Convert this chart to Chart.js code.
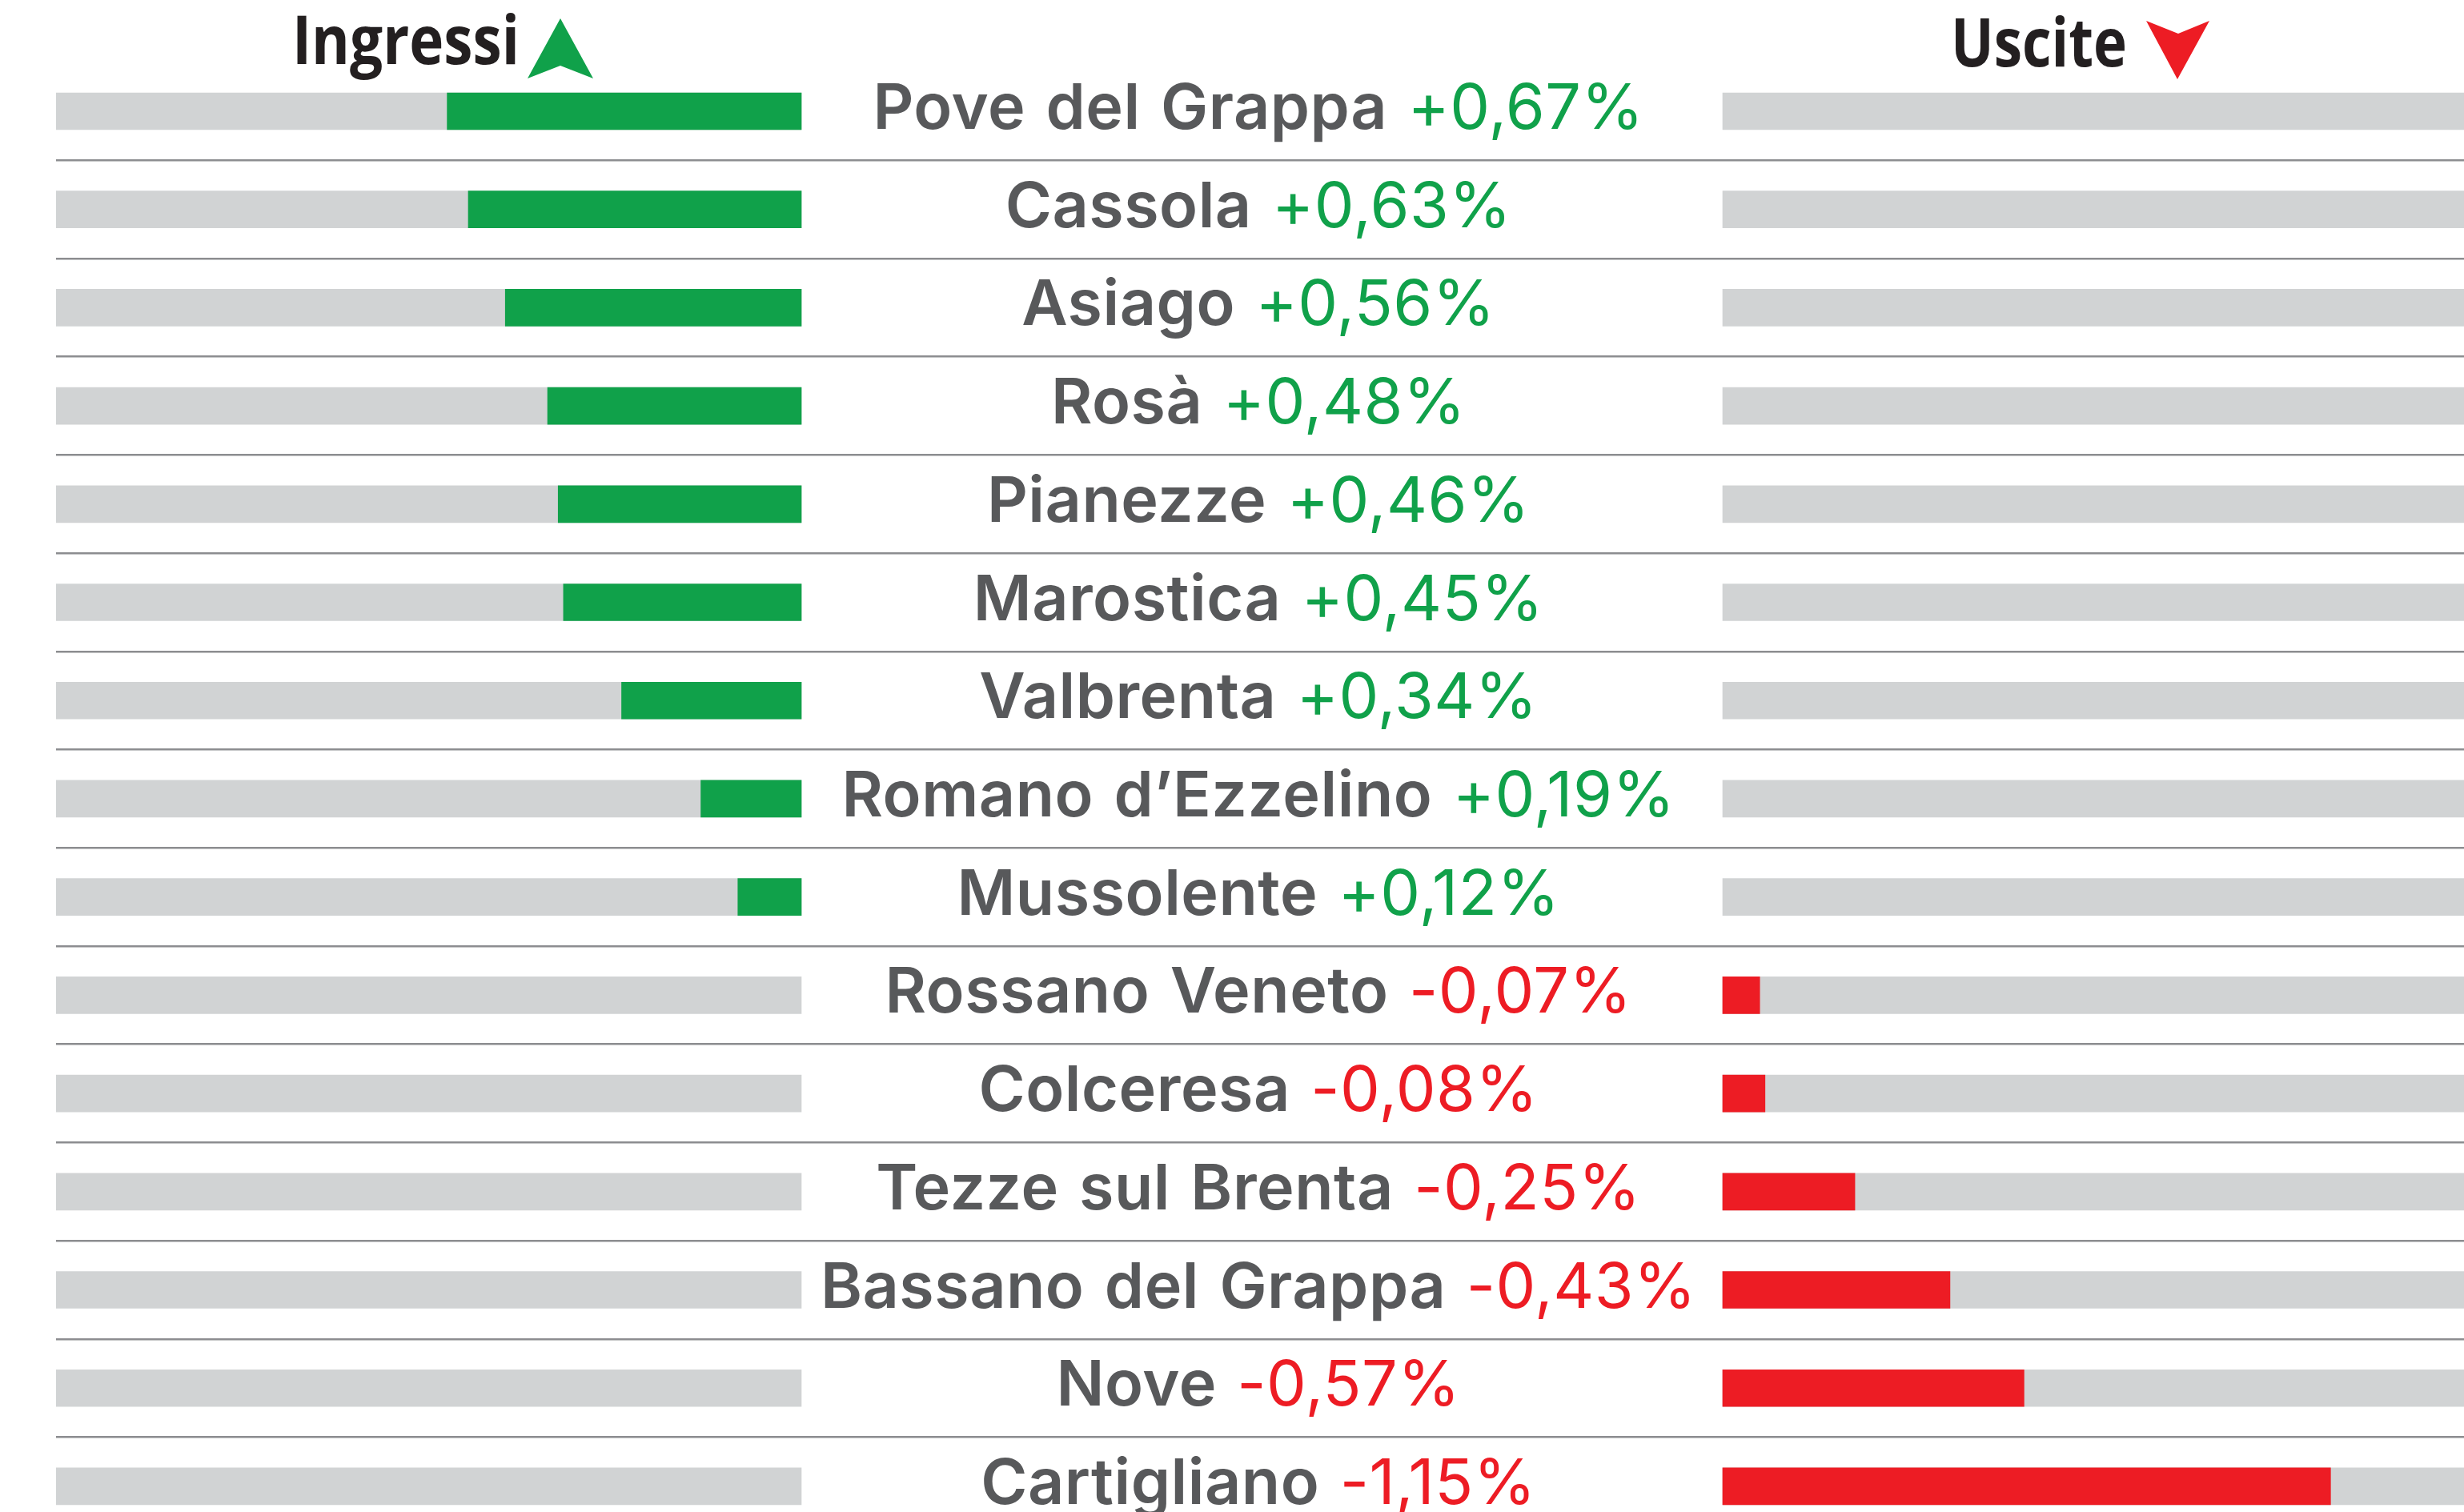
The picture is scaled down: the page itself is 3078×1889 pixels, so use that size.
<!DOCTYPE html>
<html lang="it">
<head>
<meta charset="utf-8">
<title>Ingressi e uscite</title>
<script src="https://cdn.jsdelivr.net/npm/chart.js@4.4.1/dist/chart.umd.min.js"></script>
<style>
  html, body { margin: 0; padding: 0; background: #fff; overflow: hidden; }
  #grafico { position: absolute; left: 0; top: 0; }
</style>
</head>
<body>
<canvas id="grafico" width="3100" height="1930"></canvas>
<script>
// Dati
const comuni = ['Pove del Grappa', 'Cassola', 'Asiago', 'Rosà', 'Pianezze', 'Marostica', 'Valbrenta',
    'Romano d\u2019Ezzelino', 'Mussolente', 'Rossano Veneto', 'Colceresa', 'Tezze sul Brenta',
    'Bassano del Grappa', 'Nove', 'Cartigliano'];
const variazioni = [0.67, 0.63, 0.56, 0.48, 0.46, 0.45, 0.34, 0.19, 0.12, -0.07, -0.08, -0.25, -0.43, -0.57, -1.15];
const scalaMax = 1.41;

const ingressi = variazioni.map(v => v > 0 ? v : null);
const uscite = variazioni.map(v => v < 0 ? -v : null);
const binario = comuni.map(() => scalaMax);

// Colori
const VERDE = '#10a14a';
const ROSSO = '#ed1c24';
const GRIGIO = '#d1d3d4';
const LINEA = '#8c8d90';
const TESTO = '#58595b';
const NERO = '#231f20';

// Impaginazione (pixel)
const AREA_L = 70, AREA_R = 3083;
const ZERO_IN = 1001, ZERO_OUT = 2152;
const CENTRO = 1572;
const pxUnita = (ZERO_IN - AREA_L) / scalaMax;
const FONT_NOME = '600 79px Inter';
const FONT_VAL = '400 79px Inter';

function formatta(v) {
    return (v > 0 ? '+' : '-') + Math.abs(v).toFixed(2).replace('.', ',') + '%';
}

// Etichette centrali: nome + variazione
const etichette = {
    id: 'etichette',
    afterDatasetsDraw(chart) {
        const ctx = chart.ctx;
        const y = chart.scales.y;
        ctx.save();
        ctx.textBaseline = 'alphabetic';
        ctx.letterSpacing = '0.5px';
        ctx.wordSpacing = '5px';
        comuni.forEach((nome, i) => {
            const yc = y.getPixelForValue(i) + 22;
            const val = formatta(variazioni[i]);
            ctx.font = FONT_NOME;
            const wN = ctx.measureText(nome + ' ').width;
            ctx.font = FONT_VAL;
            const wV = ctx.measureText(val).width;
            const x = CENTRO - (wN + wV) / 2;
            ctx.font = FONT_NOME;
            ctx.fillStyle = TESTO;
            ctx.fillText(nome + ' ', x, yc);
            ctx.font = FONT_VAL;
            ctx.fillStyle = variazioni[i] > 0 ? VERDE : ROSSO;
            ctx.fillText(val, x + wN, yc);
        });
        ctx.restore();
    }
};

// Titoli con frecce
function titolo(ctx, testo, x, y, larghezza) {
    ctx.font = 'bold 84px "Open Sans"';
    const w = ctx.measureText(testo).width;
    ctx.save();
    ctx.translate(x, y);
    ctx.scale(larghezza / w, 1);
    ctx.fillStyle = NERO;
    ctx.fillText(testo, 0, 0);
    ctx.restore();
}

const titoli = {
    id: 'titoli',
    afterDraw(chart) {
        const ctx = chart.ctx;
        ctx.save();
        titolo(ctx, 'Ingressi', 365, 80, 284);
        ctx.fillStyle = VERDE;
        ctx.beginPath();
        ctx.moveTo(700, 23); ctx.lineTo(741, 98); ctx.lineTo(700, 82); ctx.lineTo(659, 98);
        ctx.closePath(); ctx.fill();

        titolo(ctx, 'Uscite', 2437, 83, 220);
        ctx.fillStyle = ROSSO;
        ctx.beginPath();
        ctx.moveTo(2681, 26); ctx.lineTo(2721, 42); ctx.lineTo(2760, 26); ctx.lineTo(2720, 99);
        ctx.closePath(); ctx.fill();
        ctx.restore();
    }
};

const grafico = new Chart(document.getElementById('grafico'), {
    type: 'bar',
    data: {
        labels: comuni,
        datasets: [
            { label: 'Ingressi', data: ingressi, xAxisID: 'xIn', backgroundColor: VERDE, order: 0 },
            { label: 'Uscite', data: uscite, xAxisID: 'xOut', backgroundColor: ROSSO, order: 0 },
            { label: 'fondo ingressi', data: binario, xAxisID: 'xIn', backgroundColor: GRIGIO, order: 1 },
            { label: 'fondo uscite', data: binario, xAxisID: 'xOut', backgroundColor: GRIGIO, order: 1 }
        ]
    },
    options: {
        indexAxis: 'y',
        responsive: false,
        animation: false,
        layout: { padding: { left: AREA_L, right: 3100 - AREA_R, top: 77.6, bottom: 11.7 } },
        datasets: { bar: { grouped: false, barThickness: 46, borderWidth: 0 } },
        plugins: { legend: { display: false }, tooltip: { enabled: false } },
        scales: {
            y: {
                display: true,
                ticks: { display: false },
                border: { display: false },
                grid: {
                    offset: true,
                    drawTicks: false,
                    lineWidth: 2.5,
                    color: c => (c.index === 0 || c.index === comuni.length) ? 'transparent' : LINEA
                }
            },
            xIn: {
                axis: 'x', type: 'linear', display: false, reverse: true,
                min: -(AREA_R - ZERO_IN) / pxUnita, max: scalaMax
            },
            xOut: {
                axis: 'x', type: 'linear', display: false,
                min: -(ZERO_OUT - AREA_L) / pxUnita, max: (AREA_R - ZERO_OUT) / pxUnita
            }
        }
    },
    plugins: [etichette, titoli]
});
</script>
</body>
</html>
